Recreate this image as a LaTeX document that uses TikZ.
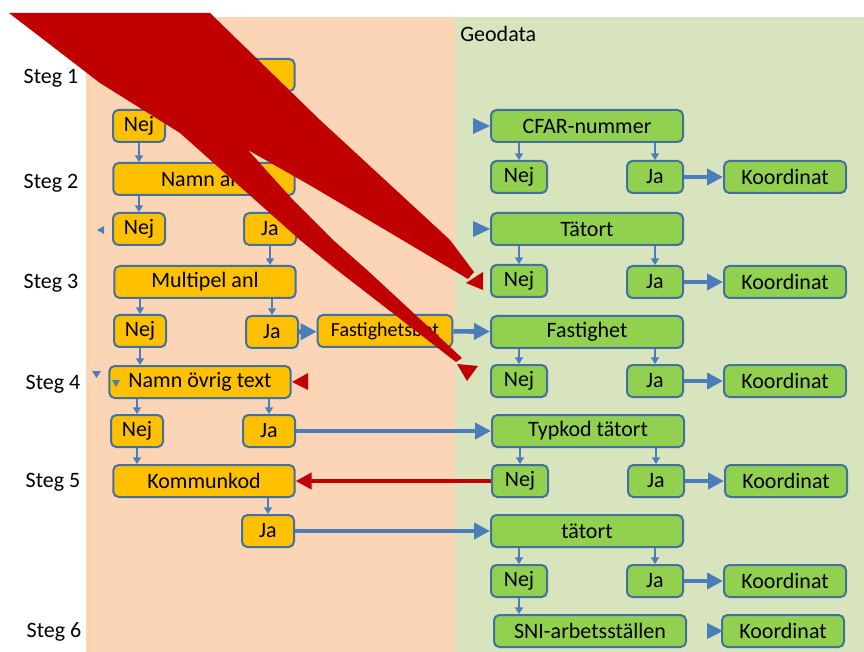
\documentclass[tikz,border=0pt]{standalone}
\usepackage{fontspec}
\setmainfont{Carlito}
\usetikzlibrary{arrows.meta}
\definecolor{peach}{HTML}{FBD5B5}
\definecolor{geogreen}{HTML}{D7E4BD}
\definecolor{boxorange}{HTML}{FFC000}
\definecolor{boxgreen}{HTML}{92D050}
\definecolor{boxline}{HTML}{41719C}
\definecolor{flowblue}{HTML}{4A7EBB}
\definecolor{darkred}{HTML}{C00000}

\begin{document}
\begin{tikzpicture}[
            x=0.75pt, y=-0.75pt,
            font=\fontsize{16.5}{18}\selectfont,
            box/.style={draw=boxline,line width=1.5pt,rounded corners=4pt,minimum height=24pt,inner sep=0pt},
            lbox/.style={box,fill=boxorange},
            gbox/.style={box,fill=boxgreen},
            wide/.style={lbox,minimum width=136pt},
            gwide/.style={gbox,minimum width=144pt},
            lsmall/.style={lbox,minimum width=39pt},
            gsmall/.style={gbox,minimum width=42pt},
            koord/.style={gbox,minimum width=91.5pt},
            thin/.style={draw=flowblue,line width=1.5pt,-{Triangle[length=5pt,width=6pt]}},
            thick/.style={draw=flowblue,line width=3.5pt,-{Triangle[length=12pt,width=12pt]}},
            back/.style={draw=darkred,line width=3.5pt,-{Triangle[length=12pt,width=12pt]}},
        ]
            \useasboundingbox (0,0) rectangle (864,652);
            \fill[peach] (86,17) rectangle (455,652);
            \fill[geogreen] (455,17) rectangle (864,652);

            % steps
            \node (steg1) at (51,78) {Steg 1};
            \node (steg2) at (51,183) {Steg 2};
            \node (steg3) at (51,283) {Steg 3};
            \node (steg4) at (53,384) {Steg 4};
            \node (steg5) at (53,482) {Steg 5};
            \node (steg6) at (54,632) {Steg 6};
            \node[anchor=west,inner sep=0pt] (geodata) at (460,34) {Geodata};

            % orange column
            \node[wide] (anl1) at (204,75) {};
            \node[lsmall] (nej11) at (139,126) {Nej};
            \node[wide] (namnanl) at (204,179) {Namn anl};
            \node[lsmall] (nej21) at (139,229) {Nej};
            \node[lsmall] (ja21) at (270,229) {Ja};
            \node[wide] (multipel) at (205,282) {Multipel anl};
            \node[lsmall] (nej31) at (140,331) {Nej};
            \node[lsmall] (ja31) at (272,332) {Ja};
            \node[lbox,minimum width=101pt,font=\fontsize{15}{17}\selectfont] (fastbet) at (385,331) {Fastighetsbet};
            \node[wide] (ovrig) at (200,382) {Namn övrig text};
            \node[lsmall] (nej41) at (137,431) {Nej};
            \node[lsmall] (ja41) at (269,431) {Ja};
            \node[wide] (kommun) at (204,481) {Kommunkod};
            \node[lsmall] (ja51) at (268,531) {Ja};

            % green column
            \node[gwide] (cfar) at (587,126) {CFAR-nummer};
            \node[gsmall] (cnej) at (519,177) {Nej};
            \node[gsmall] (cja) at (655,177) {Ja};
            \node[koord] (ckoord) at (785,177) {Koordinat};
            \node[gwide] (tatort) at (587,229) {Tätort};
            \node[gsmall] (tnej) at (519,281) {Nej};
            \node[gsmall] (tja) at (655,282) {Ja};
            \node[koord] (tkoord) at (785,282) {Koordinat};
            \node[gwide] (fast) at (587,332) {Fastighet};
            \node[gsmall] (fnej) at (519,381) {Nej};
            \node[gsmall] (fja) at (655,381) {Ja};
            \node[koord] (fkoord) at (785,381) {Koordinat};
            \node[gwide] (typkod) at (588,431) {Typkod tätort};
            \node[gsmall] (ynej) at (520,481) {Nej};
            \node[gsmall] (yja) at (656,481) {Ja};
            \node[koord] (ykoord) at (786,481) {Koordinat};
            \node[gwide] (tatort2) at (587,531) {tätort};
            \node[gsmall] (t2nej) at (519,581) {Nej};
            \node[gsmall] (t2ja) at (655,581) {Ja};
            \node[koord] (t2koord) at (785,581) {Koordinat};
            \node[gwide] (sni) at (590,631) {SNI-arbetsställen};
            \node[koord] (skoord) at (783,631) {Koordinat};

            % thin arrows, orange side
            \draw[thin] (nej11) -- (nej11 |- namnanl.north);
            \draw[thin] (namnanl.south -| nej21) -- (nej21.north);
            \draw[thin] (ja21) -- (ja21 |- multipel.north);
            \draw[thin] (multipel.south -| nej31) -- (nej31.north);
            \draw[thin] (multipel.south -| ja31) -- (ja31.north);
            \draw[thin] (nej31) -- (nej31 |- ovrig.north);
            \draw[thin] (ovrig.south -| nej41) -- (nej41.north);
            \draw[thin] (ovrig.south -| ja41) -- (ja41.north);
            \draw[thin] (nej41) -- (nej41 |- kommun.north);
            \draw[thin] (kommun.south -| ja51) -- (ja51.north);

            % thin arrows, green side
            \foreach \top/\l/\r in {cfar/cnej/cja, tatort/tnej/tja, fast/fnej/fja, typkod/ynej/yja, tatort2/t2nej/t2ja} {
                \draw[thin] (\top.south -| \l) -- (\l.north);
                \draw[thin] (\top.south -| \r) -- (\r.north);
            }
            \draw[thin] (t2nej) -- (t2nej |- sni.north);

            % thick arrows
            \foreach \a/\b in {cja/ckoord, tja/tkoord, fja/fkoord, yja/ykoord, t2ja/t2koord, ja31/fastbet, fastbet/fast, ja41/typkod, ja51/tatort2}
                \draw[thick] (\a) -- (\b);
            \draw[back] (ynej) -- (kommun);

            % loose tips
            \fill[flowblue] (104,226) -- (104,234) -- (97,230) -- cycle;
            \fill[flowblue] (92,371) -- (101,371) -- (96.5,378) -- cycle;
            \fill[flowblue] (112,380) -- (120,380) -- (116,387) -- cycle;
            \fill[flowblue] (473,118) -- (473,134) -- (490,126) -- cycle;
            \fill[flowblue] (473,221) -- (473,237) -- (490,229) -- cycle;
            \fill[flowblue] (707,623) -- (707,639) -- (723,631) -- cycle;

            % red wedges
            \fill[darkred] (9,13) -- (210,13) -- (320,120) -- (450,240) -- (474,272) -- (468,279)
                -- (313,187) -- (248,150) -- (293,200) -- (333,240) -- (367,270) -- (462,358)
                -- (456,362) -- (337,270) -- (300,240) -- (180,133) -- (100,83) -- cycle;
            \fill[darkred] (483,272) -- (483,290) -- (466,283) -- cycle;
            \fill[darkred] (457,364) -- (478,366) -- (467,381) -- cycle;
            \fill[darkred] (308,373) -- (308,390) -- (292,382) -- cycle;
        \end{tikzpicture}
\end{document}
